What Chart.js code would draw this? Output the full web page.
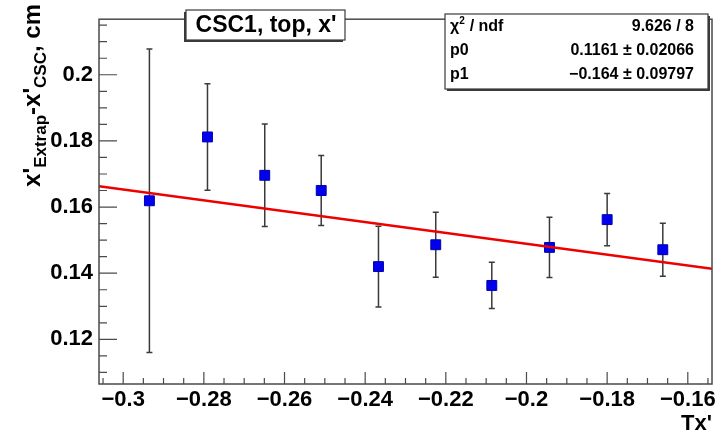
<!DOCTYPE html>
<html>
<head>
<meta charset="utf-8">
<script src="https://cdn.jsdelivr.net/npm/chart.js@4"></script>
<style>
  html, body { margin: 0; padding: 0; background: #fff; }
</style>
</head>
<body>
<canvas id="myChart" width="725" height="435"></canvas>
<script>
// residuals of x' vs. track slope, one point per Tx' bin
var txValues = [-0.2935, -0.2791, -0.2649, -0.2509, -0.2367, -0.2225, -0.2086, -0.1943, -0.1800, -0.1662];
var dxValues = [0.1619, 0.1812, 0.1696, 0.1650, 0.1420, 0.1486, 0.1363, 0.1478, 0.1562, 0.1471];
var dxErrors = [0.0459, 0.0161, 0.0155, 0.0106, 0.0122, 0.0098, 0.0070, 0.0091, 0.0079, 0.0080];

// straight line fit  p0 + p1 * Tx'
var fitP0 = 0.1161, fitP0Err = 0.02066;
var fitP1 = -0.164, fitP1Err = 0.09797;
var chi2 = 9.626, ndf = 8;

var xTicks = [-0.3, -0.28, -0.26, -0.24, -0.22, -0.2, -0.18, -0.16];
var yTicks = [0.12, 0.14, 0.16, 0.18, 0.2];
var xRange = [-0.306, -0.154];
var yRange = [0.1065, 0.2168];

var FONT = "'Liberation Sans', Arial, Helvetica, sans-serif";

function minus(v) {
    return String(v).replace('-', '\u2212');
}

// error bars with small end caps
var errorBars = {
    id: 'errorBars',
    beforeDatasetsDraw(chart) {
        var ctx = chart.ctx, xs = chart.scales.x, ys = chart.scales.y;
        ctx.save();
        ctx.strokeStyle = '#3a3a3a';
        ctx.lineWidth = 1.5;
        for (let i = 0; i < txValues.length; i++) {
            var px = xs.getPixelForValue(txValues[i]);
            var top = ys.getPixelForValue(dxValues[i] + dxErrors[i]);
            var bot = ys.getPixelForValue(dxValues[i] - dxErrors[i]);
            ctx.beginPath();
            ctx.moveTo(px, top); ctx.lineTo(px, bot);
            ctx.moveTo(px - 3, top); ctx.lineTo(px + 3, top);
            ctx.moveTo(px - 3, bot); ctx.lineTo(px + 3, bot);
            ctx.stroke();
        }
        ctx.restore();
    }
};

// frame, inward ticks, y title, text boxes
var decorations = {
    id: 'decorations',
    afterDraw(chart) {
        var ctx = chart.ctx, a = chart.chartArea;
        var xs = chart.scales.x, ys = chart.scales.y;
        ctx.save();

        ctx.strokeStyle = '#4a4a4a';
        ctx.lineWidth = 1.5;
        ctx.strokeRect(a.left, a.top, a.right - a.left, a.bottom - a.top);

        ctx.lineWidth = 1.2;
        ctx.beginPath();
        for (let k = -61; k <= -31; k++) {
            var px = xs.getPixelForValue(k * 0.005);
            var len = (k % 4 === 0) ? 12 : 6;
            ctx.moveTo(px, a.bottom); ctx.lineTo(px, a.bottom - len);
        }
        for (let k = 22; k <= 43; k++) {
            var py = ys.getPixelForValue(k * 0.005);
            var len = (k % 4 === 0) ? 18 : 8;
            ctx.moveTo(a.left, py); ctx.lineTo(a.left + len, py);
        }
        ctx.stroke();

        // y axis title, rotated, with subscripts
        ctx.save();
        ctx.translate(40, 4);
        ctx.rotate(-Math.PI / 2);
        ctx.fillStyle = '#000';
        ctx.textBaseline = 'alphabetic';
        var parts = [
            ["x'", 24, 0], ['Extrap', 17, 6], ["-x'", 24, 0], ['CSC', 17, 6], [', cm', 24, 0]
        ];
        var total = 0;
        parts.forEach(p => { ctx.font = 'bold ' + p[1] + 'px ' + FONT; total += ctx.measureText(p[0]).width; });
        var cx = -total;
        parts.forEach(p => {
            ctx.font = 'bold ' + p[1] + 'px ' + FONT;
            ctx.fillText(p[0], cx, p[2]);
            cx += ctx.measureText(p[0]).width;
        });
        ctx.restore();

        // title box
        ctx.fillStyle = '#3a3a3a';
        ctx.fillRect(184, 12, 159, 30);
        ctx.fillStyle = '#fff';
        ctx.fillRect(186, 10, 159, 30);
        ctx.strokeStyle = '#3a3a3a';
        ctx.lineWidth = 1.2;
        ctx.strokeRect(186, 10, 159, 30);
        ctx.fillStyle = '#000';
        ctx.font = 'bold 23px ' + FONT;
        ctx.textAlign = 'center';
        ctx.textBaseline = 'middle';
        ctx.fillText("CSC1, top, x'", 266, 26);

        // fit statistics box
        ctx.fillStyle = '#3a3a3a';
        ctx.fillRect(447, 16, 263, 75);
        ctx.fillStyle = '#fff';
        ctx.fillRect(445, 14, 263, 75);
        ctx.strokeRect(445, 14, 263, 75);
        ctx.fillStyle = '#000';
        ctx.textBaseline = 'middle';
        var rows = [
            ['\u03c7', chi2 + ' / ' + ndf],
            ['p0', fitP0 + ' \u00b1 ' + fitP0Err],
            ['p1', minus(fitP1) + ' \u00b1 ' + fitP1Err]
        ];
        var rowY = [27, 51, 75];
        rows.forEach((r, i) => {
            ctx.font = 'bold 16px ' + FONT;
            ctx.textAlign = 'left';
            ctx.fillText(r[0], 450, rowY[i]);
            if (i === 0) {
                var w = ctx.measureText(r[0]).width;
                ctx.font = 'bold 10px ' + FONT;
                ctx.fillText('2', 450 + w, rowY[i] - 6);
                ctx.font = 'bold 16px ' + FONT;
                ctx.fillText(' / ndf', 450 + w + 6, rowY[i]);
            }
            ctx.textAlign = 'right';
            ctx.fillText(r[1], 694, rowY[i]);
        });

        ctx.restore();
    }
};

var fitLine = xRange.map(x => ({ x: x, y: fitP0 + fitP1 * x }));
var points = txValues.map((x, i) => ({ x: x, y: dxValues[i] }));

new Chart('myChart', {
    type: 'scatter',
    data: {
        datasets: [{
            type: 'line',
            data: fitLine,
            borderColor: '#ee0000',
            borderWidth: 2.5,
            pointRadius: 0,
            order: 0
        }, {
            data: points,
            pointStyle: 'rect',
            pointRadius: 7,
            backgroundColor: '#0000ee',
            borderColor: '#0000b0',
            borderWidth: 1,
            order: 1
        }]
    },
    options: {
        responsive: false,
        animation: false,
        events: [],
        layout: { padding: { top: 9, right: 13, left: 0, bottom: 0 } },
        plugins: { legend: { display: false }, tooltip: { enabled: false } },
        scales: {
            x: {
                type: 'linear',
                min: xRange[0],
                max: xRange[1],
                afterBuildTicks: s => { s.ticks = xTicks.map(v => ({ value: v })); },
                afterFit: s => { s.height = 51; },
                grid: { display: false, drawTicks: false },
                border: { display: false },
                ticks: {
                    autoSkip: false,
                    maxRotation: 0,
                    padding: 3,
                    color: '#000',
                    font: { family: FONT, size: 22, weight: 'bold' },
                    callback: v => minus(v)
                },
                title: {
                    display: true,
                    text: "Tx'",
                    align: 'end',
                    color: '#000',
                    font: { family: FONT, size: 22, weight: 'bold', lineHeight: 1 },
                    padding: { top: 0, bottom: 0 }
                }
            },
            y: {
                type: 'linear',
                min: yRange[0],
                max: yRange[1],
                afterBuildTicks: s => { s.ticks = yTicks.map(v => ({ value: v })); },
                afterFit: s => { s.width = 99; },
                grid: { display: false, drawTicks: false },
                border: { display: false },
                ticks: {
                    padding: 6,
                    color: '#000',
                    font: { family: FONT, size: 22, weight: 'bold' },
                    callback: v => String(v)
                }
            }
        }
    },
    plugins: [errorBars, decorations]
});
</script>
</body>
</html>
